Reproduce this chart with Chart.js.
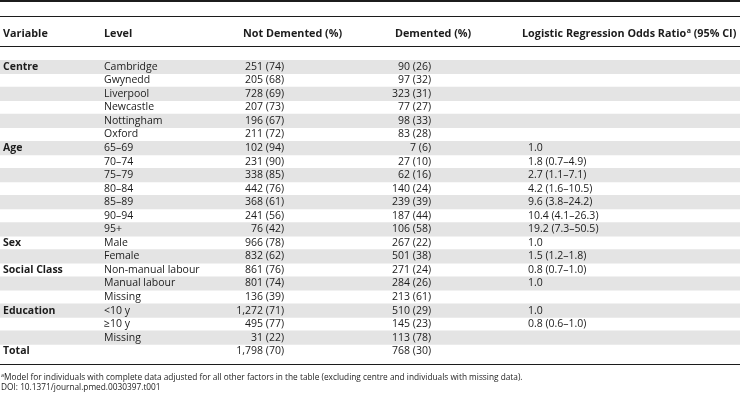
<!DOCTYPE html>
<html>
<head>
<meta charset="utf-8">
<script src="https://cdn.jsdelivr.net/npm/chart.js"></script>
<style>
  html, body { margin: 0; padding: 0; background: #fff; }
  canvas { display: block; }
</style>
</head>
<body>
<canvas id="tableChart" width="740" height="404"></canvas>
<script>
const headers = ['Variable', 'Level', 'Not Demented (%)', 'Demented (%)', 'Logistic Regression Odds Ratio', ' (95% CI)'];
const variables = ['Centre', '', '', '', '', '', 'Age', '', '', '', '', '', '', 'Sex', '', 'Social Class', '', '', 'Education', '', '', 'Total'];
const levels = ['Cambridge', 'Gwynedd', 'Liverpool', 'Newcastle', 'Nottingham', 'Oxford',
  '65–69', '70–74', '75–79', '80–84', '85–89', '90–94', '95+',
  'Male', 'Female',
  'Non-manual labour', 'Manual labour', 'Missing',
  '<10 y', '≥10 y', 'Missing',
  ''];
const notDementedN = [251, 205, 728, 207, 196, 211, 102, 231, 338, 442, 368, 241, 76, 966, 832, 861, 801, 136, 1272, 495, 31, 1798];
const notDementedPct = [74, 68, 69, 73, 67, 72, 94, 90, 85, 76, 61, 56, 42, 78, 62, 76, 74, 39, 71, 77, 22, 70];
const dementedN = [90, 97, 323, 77, 98, 83, 7, 27, 62, 140, 239, 187, 106, 267, 501, 271, 284, 213, 510, 145, 113, 768];
const dementedPct = [26, 32, 31, 27, 33, 28, 6, 10, 16, 24, 39, 44, 58, 22, 38, 24, 26, 61, 29, 23, 78, 30];
const oddsRatio = [null, null, null, null, null, null, 1.0, 1.8, 2.7, 4.2, 9.6, 10.4, 19.2, 1.0, 1.5, 0.8, 1.0, null, 1.0, 0.8, null, null];
const ciLow = [null, null, null, null, null, null, null, 0.7, 1.1, 1.6, 3.8, 4.1, 7.3, null, 1.2, 0.7, null, null, null, 0.6, null, null];
const ciHigh = [null, null, null, null, null, null, null, 4.9, 7.1, 10.5, 24.2, 26.3, 50.5, null, 1.8, 1.0, null, null, null, 1.0, null, null];
const footnote = 'Model for individuals with complete data adjusted for all other factors in the table (excluding centre and individuals with missing data).';
const doiText = 'DOI: 10.1371/journal.pmed.0030397.t001';

// layout (x in pixels of the 740 wide x scale)
const X_MAX = 740;
const COL = { variable: 3, level: 104, notDemHead: 243, notDemRight: 284, demHead: 395, demRight: 431, orHead: 522, orLeft: 528 };
const FONT = "'Open Sans', 'DejaVu Sans', sans-serif";
const INK = '#1c1c1c';

const fmtCount = (n, p) => n.toLocaleString('en-US') + ' (' + p + ')';
const fmtOdds = (i) => {
  if (oddsRatio[i] === null) return '';
  let s = oddsRatio[i].toFixed(1);
  if (ciLow[i] !== null) s += ' (' + ciLow[i].toFixed(1) + '–' + ciHigh[i].toFixed(1) + ')';
  return s;
};

const tablePlugin = {
  id: 'tableText',
  afterDatasetsDraw(chart) {
    const ctx = chart.ctx;
    const x = chart.scales.x;
    const y = chart.scales.y;
    const area = chart.chartArea;
    ctx.save();
    ctx.fillStyle = INK;

    // rules
    ctx.fillRect(0, 0, X_MAX, 2);
    ctx.fillRect(0, 16, X_MAX, 1);
    ctx.fillRect(0, 46, X_MAX, 1);
    ctx.fillRect(0, area.bottom + 6, X_MAX, 1);

    // header
    const headY = 34;
    ctx.textBaseline = 'middle';
    ctx.font = 'bold 10.8px ' + FONT;
    ctx.textAlign = 'left';
    ctx.fillText(headers[0], x.getPixelForValue(COL.variable), headY);
    ctx.fillText(headers[1], x.getPixelForValue(COL.level), headY);
    ctx.fillText(headers[2], x.getPixelForValue(COL.notDemHead), headY);
    ctx.fillText(headers[3], x.getPixelForValue(COL.demHead), headY);
    let hx = x.getPixelForValue(COL.orHead);
    ctx.fillText(headers[4], hx, headY);
    hx += ctx.measureText(headers[4]).width + 0.5;
    ctx.font = 'bold 7px ' + FONT;
    ctx.fillText('a', hx, headY - 3);
    hx += ctx.measureText('a').width;
    ctx.font = 'bold 10.8px ' + FONT;
    ctx.fillText(headers[5], hx, headY);

    // body rows
    levels.forEach((lvl, i) => {
      const py = y.getPixelForValue(i);
      if (variables[i]) {
        ctx.font = 'bold 10.5px ' + FONT;
        ctx.textAlign = 'left';
        ctx.fillText(variables[i], x.getPixelForValue(COL.variable), py);
      }
      ctx.font = '10.5px ' + FONT;
      ctx.textAlign = 'left';
      ctx.fillText(lvl, x.getPixelForValue(COL.level), py);
      ctx.fillText(fmtOdds(i), x.getPixelForValue(COL.orLeft), py);
      ctx.textAlign = 'right';
      ctx.fillText(fmtCount(notDementedN[i], notDementedPct[i]), x.getPixelForValue(COL.notDemRight), py);
      ctx.fillText(fmtCount(dementedN[i], dementedPct[i]), x.getPixelForValue(COL.demRight), py);
    });

    // footnotes
    ctx.textAlign = 'left';
    ctx.font = '5.5px ' + FONT;
    ctx.fillText('a', 1, area.bottom + 17);
    ctx.font = '8.3px ' + FONT;
    ctx.fillText(footnote, 4, area.bottom + 20);
    ctx.fillText(doiText, 1, area.bottom + 30);
    ctx.restore();
  }
};

new Chart(document.getElementById('tableChart'), {
  type: 'bar',
  data: {
    labels: levels,
    datasets: [{
      label: 'row shading',
      data: levels.map((_, i) => (i % 2 === 0 ? [0, X_MAX] : null)),
      backgroundColor: '#e4e4e4',
      borderWidth: 0,
      barPercentage: 1,
      categoryPercentage: 1
    }]
  },
  options: {
    indexAxis: 'y',
    responsive: false,
    animation: false,
    devicePixelRatio: 1,
    layout: { padding: { top: 60, bottom: 46, left: 0, right: 0 } },
    plugins: {
      legend: { display: false },
      tooltip: { enabled: false }
    },
    scales: {
      x: { type: 'linear', min: 0, max: X_MAX, display: false },
      y: { type: 'category', display: false }
    }
  },
  plugins: [tablePlugin]
});
</script>
</body>
</html>
